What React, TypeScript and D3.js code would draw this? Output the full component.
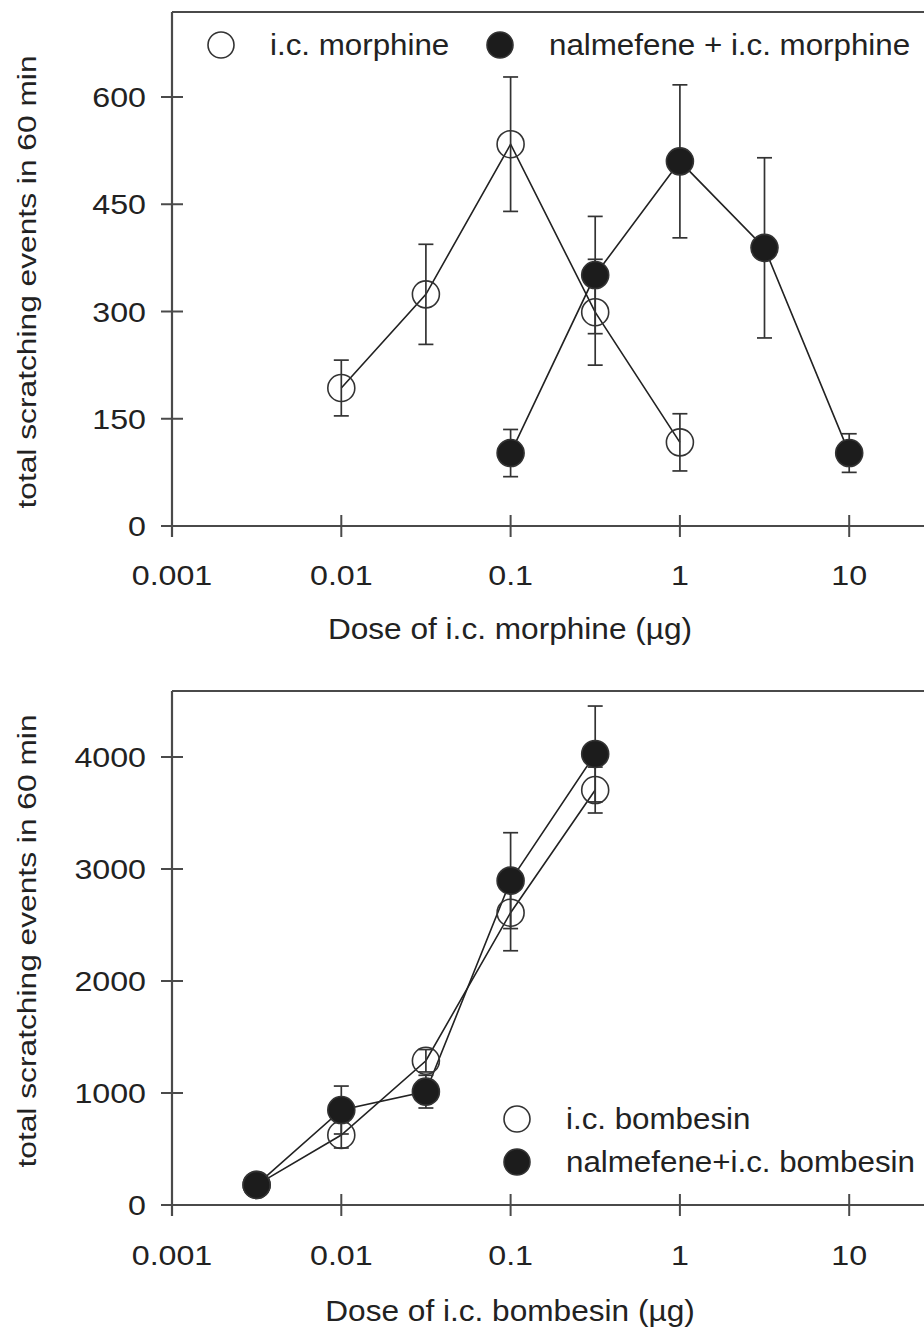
import React from "react";
import * as d3 from "d3";

// Panel A: i.c. morphine
const morphineDose = [0.01, 0.0316, 0.1, 0.316, 1];
const morphineMean = [193, 324, 534, 299, 117];
const morphineSem = [39, 70, 94, 74, 40];

const nalMorphineDose = [0.1, 0.316, 1, 3.16, 10];
const nalMorphineMean = [102, 351, 510, 389, 102];
const nalMorphineSem = [33, 82, 107, 126, 27];

// Panel B: i.c. bombesin
const bombesinDose = [0.00316, 0.01, 0.0316, 0.1, 0.316];
const bombesinMean = [180, 625, 1288, 2610, 3705];
const bombesinSem = [40, 116, 100, 340, 205];
const nalBombesinMean = [179, 848, 1012, 2896, 4027];
const nalBombesinSem = [40, 214, 146, 428, 428];

const xTickValues = [0.001, 0.01, 0.1, 1, 10];
const xTickLabels = ["0.001", "0.01", "0.1", "1", "10"];
const yTicksA = [0, 150, 300, 450, 600];
const yTicksB = [0, 1000, 2000, 3000, 4000];

const yTitle = "total scratching events in 60 min";

const W = 924;
const H = 1332;
const FONT = "'Liberation Sans', Arial, Helvetica, sans-serif";
const INK = "#222";
const AXIS = "#4a4a4a";
const R = 13.5;

const xScale = d3.scaleLog().domain([0.001, 100]).range([172, 1018.5]);

type Series = { dose: number[]; mean: number[]; sem: number[]; filled: boolean };

function Txt(props: { x: number; y: number; sx?: number; size: number; anchor?: string; rotate?: number; children: any }) {
  const { x, y, sx = 1, size, anchor = "start", rotate = 0, children } = props;
  return (
    <text
      transform={`translate(${x},${y}) rotate(${rotate}) scale(${sx},1)`}
      fontFamily={FONT}
      fontSize={size}
      fill={INK}
      textAnchor={anchor}
    >
      {children}
    </text>
  );
}

function Panel(props: {
  series: Series[];
  yTicks: number[];
  yZero: number;
  yTopTick: number;
  frameTop: number;
  tickLabelY: number;
  xTitle: string;
  xTitleY: number;
  yTitleY: number;
  legend: { x: number; y: number; label: string; filled: boolean }[];
}) {
  const { series, yTicks, yZero, yTopTick, frameTop, tickLabelY, xTitle, xTitleY, yTitleY, legend } = props;
  const yScale = d3.scaleLinear().domain([0, yTicks[yTicks.length - 1]]).range([yZero, yTopTick]);
  const x0 = xScale(0.001);
  const line = d3
    .line<[number, number]>()
    .x((d) => xScale(d[0]))
    .y((d) => yScale(d[1]));

  return (
    <g>
      {/* frame / axes */}
      <line x1={x0} x2={W + 10} y1={frameTop} y2={frameTop} stroke={AXIS} strokeWidth={2} />
      <line x1={x0} x2={x0} y1={frameTop} y2={yZero + 11} stroke={AXIS} strokeWidth={2.2} />
      <line x1={x0 - 11} x2={W + 10} y1={yZero} y2={yZero} stroke={AXIS} strokeWidth={2.2} />
      {yTicks.map((t) => (
        <g key={"y" + t}>
          <line x1={x0 - 11} x2={x0 + 11} y1={yScale(t)} y2={yScale(t)} stroke={AXIS} strokeWidth={2} />
          <Txt x={146} y={yScale(t) + 10} size={28} sx={1.15} anchor="end">
            {t}
          </Txt>
        </g>
      ))}
      {xTickValues.map((t, i) => (
        <g key={"x" + t}>
          <line x1={xScale(t)} x2={xScale(t)} y1={yZero - 11} y2={yZero + 11} stroke={AXIS} strokeWidth={2} />
          <Txt x={xScale(t)} y={tickLabelY} size={28} sx={1.15} anchor="middle">
            {xTickLabels[i]}
          </Txt>
        </g>
      ))}
      <Txt x={510} y={xTitleY} size={29} sx={1.09} anchor="middle">
        {xTitle}
      </Txt>
      <Txt x={36} y={yTitleY} size={26} sx={1.22} anchor="middle" rotate={-90}>
        {yTitle}
      </Txt>

      {/* connecting lines */}
      {series.map((s, i) => (
        <path
          key={"l" + i}
          d={line(s.dose.map((d, j) => [d, s.mean[j]] as [number, number])) || ""}
          fill="none"
          stroke={INK}
          strokeWidth={1.6}
        />
      ))}
      {/* error bars */}
      {series.map((s, i) =>
        s.dose.map((d, j) => {
          const cx = xScale(d);
          const hi = yScale(s.mean[j] + s.sem[j]);
          const lo = yScale(s.mean[j] - s.sem[j]);
          return (
            <g key={"e" + i + "-" + j} stroke="#333" strokeWidth={1.7}>
              <line x1={cx} x2={cx} y1={hi} y2={lo} />
              <line x1={cx - 7.5} x2={cx + 7.5} y1={hi} y2={hi} />
              <line x1={cx - 7.5} x2={cx + 7.5} y1={lo} y2={lo} />
            </g>
          );
        })
      )}
      {/* markers: open first, filled on top */}
      {[...series]
        .sort((a, b) => Number(a.filled) - Number(b.filled))
        .map((s, i) =>
          s.dose.map((d, j) => (
            <circle
              key={"c" + i + "-" + j}
              cx={xScale(d)}
              cy={yScale(s.mean[j])}
              r={R}
              fill={s.filled ? "#1c1c1c" : "none"}
              stroke="#333"
              strokeWidth={1.6}
            />
          ))
        )}
      {/* legend */}
      {legend.map((l) => (
        <g key={l.label}>
          <circle cx={l.x} cy={l.y} r={R - 0.5} fill={l.filled ? "#1c1c1c" : "#fff"} stroke="#333" strokeWidth={1.6} />
          <Txt x={l.x + 49} y={l.y + 10} size={29} sx={1.08}>
            {l.label}
          </Txt>
        </g>
      ))}
    </g>
  );
}

export default function App() {
  const seriesA: Series[] = [
    { dose: morphineDose, mean: morphineMean, sem: morphineSem, filled: false },
    { dose: nalMorphineDose, mean: nalMorphineMean, sem: nalMorphineSem, filled: true },
  ];
  const seriesB: Series[] = [
    { dose: bombesinDose, mean: bombesinMean, sem: bombesinSem, filled: false },
    { dose: bombesinDose, mean: nalBombesinMean, sem: nalBombesinSem, filled: true },
  ];
  return (
    <div style={{ position: "absolute", left: 0, top: 0, background: "#fff" }}>
      <svg width={W} height={H} viewBox={`0 0 ${W} ${H}`} style={{ display: "block" }}>
        <rect width={W} height={H} fill="#fff" />
        <Panel
          series={seriesA}
          yTicks={yTicksA}
          yZero={526}
          yTopTick={97}
          frameTop={12}
          tickLabelY={585}
          xTitle="Dose of i.c. morphine (µg)"
          xTitleY={639}
          yTitleY={282}
          legend={[
            { x: 221, y: 45, label: "i.c. morphine", filled: false },
            { x: 500, y: 45, label: "nalmefene + i.c. morphine", filled: true },
          ]}
        />
        <Panel
          series={seriesB}
          yTicks={yTicksB}
          yZero={1205}
          yTopTick={757}
          frameTop={691}
          tickLabelY={1265}
          xTitle="Dose of i.c. bombesin (µg)"
          xTitleY={1321}
          yTitleY={941}
          legend={[
            { x: 517, y: 1119, label: "i.c. bombesin", filled: false },
            { x: 517, y: 1162, label: "nalmefene+i.c. bombesin", filled: true },
          ]}
        />
      </svg>
    </div>
  );
}
